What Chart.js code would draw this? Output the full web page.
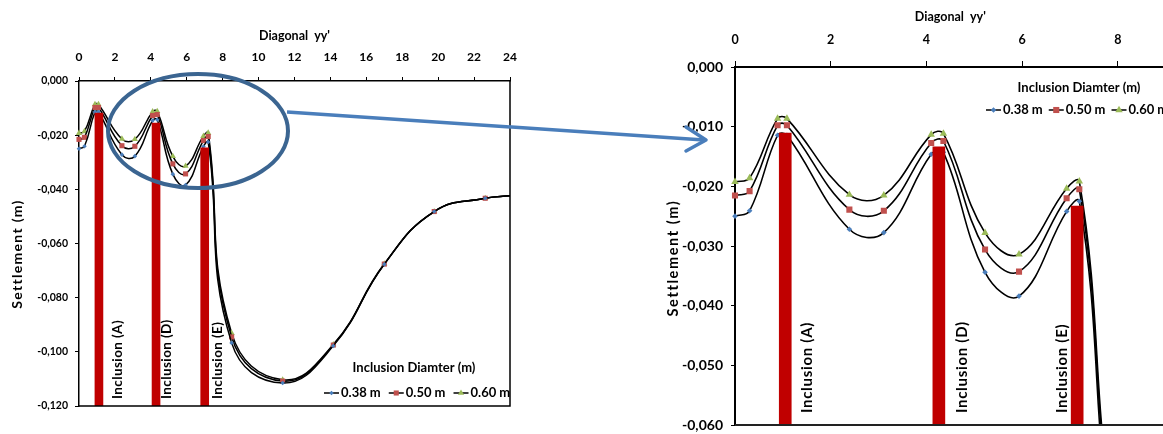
<!DOCTYPE html>
<html>
<head>
<meta charset="utf-8">
<script src="https://cdn.jsdelivr.net/npm/chart.js@4.4.0/dist/chart.umd.min.js"></script>
<style>
  html, body { margin: 0; padding: 0; background: #fff; overflow: hidden; }
  body { width: 1163px; height: 434px; position: relative; }
  #c1 { position: absolute; left: 0; top: 0; }
  #c2 { position: absolute; left: 660px; top: 0; }
  svg { position: absolute; left: 0; top: 0; z-index: 5; }
</style>
</head>
<body>
<canvas id="c1" width="540" height="434"></canvas>
<canvas id="c2" width="510" height="434"></canvas>
<svg width="1163" height="434">
  <ellipse cx="198" cy="131" rx="90" ry="57" fill="none" stroke="#3B6591" stroke-width="4"/>
  <line x1="287" y1="112" x2="704" y2="140" stroke="#4A7EBB" stroke-width="3.5"/>
  <polyline points="686,127 706,140 686,151" fill="none" stroke="#4A7EBB" stroke-width="3.5" stroke-linecap="round" stroke-linejoin="round"/>
</svg>
<script>
// distance along the diagonal yy' (same stations for every series)
const diagonalX = [0, 0.305, 0.89, 1.085, 2.39, 3.11, 4.10, 4.355, 5.225, 5.935, 6.93, 7.195, 8.5, 11.34, 14.16, 17.0, 19.78, 22.62, 24];
// settlement (m) per inclusion diameter
const settle038 = [-0.0250, -0.0241, -0.01144, -0.01144, -0.0272, -0.02775, -0.01462, -0.0143, -0.0344, -0.0384, -0.0242, -0.0225, -0.0967, -0.1115, -0.0978, -0.0677, -0.0482, -0.0433, -0.0424];
const settle050 = [-0.02155, -0.0208, -0.00977, -0.00977, -0.0239, -0.0241, -0.01273, -0.0124, -0.0306, -0.0343, -0.0220, -0.0205, -0.0945, -0.1108, -0.0975, -0.0676, -0.0482, -0.0433, -0.0424];
const settle060 = [-0.01926, -0.0186, -0.00865, -0.00865, -0.0214, -0.0215, -0.01133, -0.01116, -0.0278, -0.0314, -0.02037, -0.01915, -0.0931, -0.1103, -0.0973, -0.0675, -0.0482, -0.0433, -0.0424];
const seriesNames = ['0.38 m', '0.50 m', '0.60 m'];
const legendTitle = 'Inclusion Diamter (m)';

// the inclusions (red columns), as drawn in each of the two charts
const inclusionLabels = ['Inclusion (A)', 'Inclusion (D)', 'Inclusion (E)'];
const inclusionBase = -0.12;
const leftBarX = [1.11, 4.29, 7.0];
const leftBarTop = [-0.0118, -0.0155, -0.0247];
const rightBarX = [1.05, 4.26, 7.15];
const rightBarTop = [-0.01106, -0.0134, -0.0233];

const xTitle = "Diagonal  yy'";
const yTitle = 'Settlement (m)';

const colors = ['#4A7EBB', '#C0504D', '#9BBB59'];
const styles = ['rectRot', 'rect', 'triangle'];
const FONT = 'Lato';

function drawMarker(ctx, style, r, x, y) {
  ctx.beginPath();
  if (style === 'rectRot') {
    ctx.moveTo(x, y - r); ctx.lineTo(x + r, y); ctx.lineTo(x, y + r); ctx.lineTo(x - r, y);
  } else if (style === 'rect') {
    const h = r * Math.SQRT1_2;
    ctx.rect(x - h, y - h, 2 * h, 2 * h);
  } else {
    const e = r * 3 / Math.sqrt(3);
    ctx.moveTo(x, y - r);
    ctx.lineTo(x + e / 2, y + r / 2);
    ctx.lineTo(x - e / 2, y + r / 2);
  }
  ctx.closePath();
  ctx.fill();
}

function makeChart(id, s) {
  const lineSet = (label, values, i) => ({
    type: 'line',
    label: label,
    data: diagonalX.map((x, k) => ({x: x, y: values[k]})),
    borderColor: '#000',
    borderWidth: s.lineWidth,
    pointStyle: styles[i],
    // last station is the axis end, no marker there
    pointRadius: diagonalX.map((x, k) => k === diagonalX.length - 1 ? 0 : s.radii[i]),
    pointBackgroundColor: colors[i],
    pointBorderColor: colors[i],
    pointBorderWidth: 0,
    tension: s.tension,
    clip: {left: 8, top: 8, right: 0, bottom: 0},
    order: 1
  });

  const extras = {
    id: 'extras',
    afterDatasetsDraw(chart) {
      const {ctx, chartArea: a, scales} = chart;
      ctx.save();
      // frame right + bottom
      ctx.strokeStyle = s.frameColor;
      ctx.lineWidth = s.axisWidth;
      ctx.beginPath();
      ctx.moveTo(a.right, a.top); ctx.lineTo(a.right, a.bottom); ctx.lineTo(a.left, a.bottom);
      ctx.stroke();

      // inclusion labels
      ctx.fillStyle = '#000';
      ctx.font = 'bold ' + s.labelSize + 'px ' + FONT;
      ctx.letterSpacing = s.labelSpacing + 'px';
      ctx.textAlign = 'left';
      ctx.textBaseline = 'middle';
      s.barX.forEach((bx, i) => {
        const px = scales.x.getPixelForValue(bx) + s.labelOffsets[i];
        ctx.save();
        ctx.translate(px, a.bottom - s.labelLift);
        ctx.rotate(-Math.PI / 2);
        ctx.fillText(inclusionLabels[i], 0, 0);
        ctx.restore();
      });

      // y title
      ctx.font = 'bold ' + s.yTitleSize + 'px ' + FONT;
      ctx.letterSpacing = s.yTitleSpacing + 'px';
      ctx.textAlign = 'center';
      ctx.save();
      ctx.translate(s.yTitleX, s.yTitleY);
      ctx.rotate(-Math.PI / 2);
      ctx.fillText(yTitle, 0, 0);
      ctx.restore();
      ctx.letterSpacing = '0px';

      // legend
      const L = s.legend;
      ctx.font = 'bold 13px ' + FONT;
      ctx.textAlign = 'center';
      ctx.fillText(legendTitle, L.titleX, L.titleY);
      ctx.textAlign = 'left';
      let x = L.itemsX;
      seriesNames.forEach((name, i) => {
        ctx.strokeStyle = '#000';
        ctx.lineWidth = 1.5;
        ctx.beginPath();
        ctx.moveTo(x, L.itemsY); ctx.lineTo(x + 15, L.itemsY);
        ctx.stroke();
        ctx.fillStyle = colors[i];
        drawMarker(ctx, styles[i], s.radii[i], x + 7.5, L.itemsY);
        ctx.fillStyle = '#000';
        ctx.fillText(name, x + 17, L.itemsY);
        x += 17 + ctx.measureText(name).width + L.gap;
      });
      ctx.restore();
    }
  };

  return new Chart(document.getElementById(id), {
    type: 'line',
    data: {
      datasets: [
        lineSet(seriesNames[0], settle038, 0),
        lineSet(seriesNames[1], settle050, 1),
        lineSet(seriesNames[2], settle060, 2),
        {
          type: 'bar',
          label: 'Inclusions',
          data: s.barX.map((x, i) => ({x: x, y: [inclusionBase, s.barTop[i]]})),
          backgroundColor: '#C00000',
          borderWidth: 0,
          barThickness: s.barThickness,
          grouped: false,
          order: 0
        }
      ]
    },
    options: {
      responsive: false,
      animation: false,
      events: [],
      layout: {padding: {left: 0, top: 0, right: s.padRight, bottom: s.padBottom}},
      elements: {line: {capBezierPoints: false}},
      plugins: {legend: {display: false}, tooltip: {enabled: false}},
      scales: {
        x: {
          type: 'linear', position: 'top', min: 0, max: s.xMax, offset: false,
          ticks: {stepSize: 2, includeBounds: false, padding: s.xTickPad, color: '#000', maxRotation: 0, autoSkip: false,
                  font: {family: FONT, size: s.xTickSize, weight: 'bold'}},
          grid: {drawOnChartArea: false, drawTicks: true, tickLength: s.xTickLen, tickColor: '#000', color: '#000', offset: false},
          border: {display: true, color: '#000', width: s.axisWidth},
          title: {display: true, text: xTitle, color: '#000', font: {family: FONT, size: 12.5, weight: 'bold'},
                  padding: {top: s.xTitlePad, bottom: 0}},
          afterFit: sc => { sc.height = s.top; sc.paddingLeft = 0; sc.paddingRight = 0; }
        },
        y: {
          type: 'linear', min: s.yMin, max: 0,
          ticks: {stepSize: s.yStep, padding: s.yTickPad, color: '#000',
                  font: {family: FONT, size: s.yTickSize, weight: 'bold'},
                  callback: v => v.toFixed(3).replace('.', ',')},
          grid: {drawOnChartArea: false, drawTicks: true, tickLength: 4, tickColor: '#000', color: '#000'},
          border: {display: true, color: '#000', width: s.axisWidth},
          afterFit: sc => { sc.width = s.left; sc.paddingTop = 0; sc.paddingBottom = 0; }
        }
      }
    },
    plugins: [extras]
  });
}

function build() {
  makeChart('c1', {
    left: 79, top: 81, padRight: 30, padBottom: 28,
    xMax: 24, yMin: -0.12, yStep: 0.02, tension: 0.45,
    xTickSize: 12, xTickPad: 12.3, xTickLen: 4, yTickSize: 10.5, yTickPad: 7, xTitlePad: 28,
    axisWidth: 1.5, frameColor: '#000', lineWidth: 1.5, radii: [2.3, 3.6, 3.6],
    barX: leftBarX, barTop: leftBarTop, barThickness: 8,
    labelOffsets: [19, 11, 13], labelLift: 7, labelSize: 13.5, labelSpacing: 0.4,
    yTitleX: 17, yTitleY: 254, yTitleSize: 14, yTitleSpacing: 1.3,
    legend: {titleX: 414, titleY: 368, itemsX: 324, itemsY: 393, gap: 8}
  });
  makeChart('c2', {
    left: 75, top: 67, padRight: 4, padBottom: 9,
    xMax: 9, yMin: -0.06, yStep: 0.01, tension: 0.4,
    xTickSize: 12.5, xTickPad: 14, xTickLen: 6, yTickSize: 14, yTickPad: 8, xTitlePad: 9,
    axisWidth: 2, frameColor: '#222', lineWidth: 1.6, radii: [2.8, 4.3, 4.3],
    barX: rightBarX, barTop: rightBarTop, barThickness: 12,
    labelOffsets: [22, 23, -15], labelLift: 12, labelSize: 15, labelSpacing: 0.7,
    yTitleX: 13, yTitleY: 258, yTitleSize: 14.5, yTitleSpacing: 1.6,
    legend: {titleX: 419, titleY: 88, itemsX: 326, itemsY: 110, gap: 6}
  });
}

if (document.fonts && document.fonts.load) {
  Promise.all([document.fonts.load('bold 12px Lato')]).then(build, build);
} else {
  build();
}
</script>
</body>
</html>
